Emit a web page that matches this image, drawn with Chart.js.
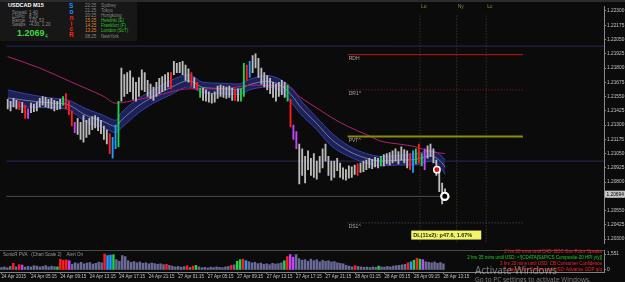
<!DOCTYPE html>
<html>
<head>
<meta charset="utf-8">
<script src="https://cdn.jsdelivr.net/npm/chart.js@4.4.0/dist/chart.umd.min.js"></script>
<style>
  html, body { margin: 0; padding: 0; background: #0b0b0b; }
  body { width: 625px; height: 282px; position: relative; overflow: hidden; font-family: "Liberation Sans", Arial, sans-serif; }
  #mainWrap { position: absolute; left: 0; top: 0; width: 625px; height: 250px; }
  #volWrap { position: absolute; left: 0; top: 250px; width: 625px; height: 32px; }
  #volWrap::before { content: ""; position: absolute; left: 0; top: 0; width: 604px; height: 1px; background: #4a4a4a; }
  #topLine { position: absolute; left: 0; top: 0; width: 625px; height: 2px; background: #2c2c2c; }
  .t { position: absolute; white-space: nowrap; line-height: 1; }
  #info { position: absolute; left: 0; top: 2px; width: 137px; height: 39px; background: #171717; }
  .lbl { font-size: 4.5px; color: #8a8a8a; }
  .news { font-size: 4.5px; right: 23px; text-align: right; }
</style>
</head>
<body>
<div id="mainWrap"><canvas id="mainChart" width="625" height="250"></canvas></div>
<div id="volWrap"><canvas id="volChart" width="625" height="32"></canvas></div>
<div id="topLine"></div>

<div id="info">
  <div class="t" style="left:8px;top:1px;font-size:5.5px;font-weight:bold;color:#fff">USDCAD</div>
  <div class="t" style="left:33px;top:1px;font-size:5.5px;font-weight:bold;color:#fff">M15</div>
  <div class="t lbl" style="left:12px;top:9px">Spread</div><div class="t lbl" style="left:29px;top:9px">1.40</div>
  <div class="t lbl" style="left:12px;top:13px">LotPip</div><div class="t lbl" style="left:29px;top:13px">8.29</div>
  <div class="t lbl" style="left:12px;top:17px">Range</div><div class="t lbl" style="left:29px;top:17px">129, 53</div>
  <div class="t lbl" style="left:12px;top:21px">Swaps</div><div class="t lbl" style="left:29px;top:21px">-4.00, 1.20</div>
  <div class="t" style="left:17px;top:27px;font-size:9px;font-weight:bold;color:#3fd83f">1.2069</div>
  <div class="t" style="left:45px;top:32px;font-size:5px;color:#3fd83f">4</div>
  <div class="t" style="left:69px;top:1px;font-size:6.5px;font-weight:bold;color:#1e90ff">S</div>
  <div class="t" style="left:69.5px;top:7px;font-size:6.5px;font-weight:bold;color:#1e90ff">o</div>
  <div class="t" style="left:69.5px;top:13px;font-size:6.5px;font-weight:bold;color:#ff2020">n</div>
  <div class="t" style="left:70.5px;top:18.5px;font-size:6.5px;font-weight:bold;color:#ff2020">i</div>
  <div class="t" style="left:69.5px;top:23.5px;font-size:6.5px;font-weight:bold;color:#ff2020">c</div>
  <div class="t" style="left:69px;top:29.5px;font-size:6.5px;font-weight:bold;color:#ff2020">R</div>
  <div class="t lbl" style="left:85px;top:1.5px">22:25</div><div class="t lbl" style="left:101px;top:1.5px">Sydney</div>
  <div class="t lbl" style="left:85px;top:6.5px">21:25</div><div class="t lbl" style="left:101px;top:6.5px">Tokyo</div>
  <div class="t lbl" style="left:85px;top:11.5px">20:25</div><div class="t lbl" style="left:101px;top:11.5px">Hongkong</div>
  <div class="t lbl" style="left:85px;top:16.5px;color:#e08a20">15:25</div><div class="t lbl" style="left:101px;top:16.5px;color:#2fc02f">Helsinki (E)</div>
  <div class="t lbl" style="left:85px;top:21.5px;color:#e08a20">14:25</div><div class="t lbl" style="left:101px;top:21.5px;color:#2fc02f">Frankfurt (F)</div>
  <div class="t lbl" style="left:85px;top:26.5px;color:#e08a20">13:25</div><div class="t lbl" style="left:101px;top:26.5px;color:#2fc02f">London (ScT)</div>
  <div class="t lbl" style="left:85px;top:32.5px">08:25</div><div class="t lbl" style="left:101px;top:32.5px">NewYork</div>
</div>

<div class="t lbl" style="left:3px;top:253px;color:#9a9a9a">SonicR PVA&nbsp;&nbsp;&nbsp;(Chart Scale 2)&nbsp;&nbsp;&nbsp;&nbsp;Alert On</div>
<div class="t news" style="top:250px;color:#ff2020">2 hrs 20 mins until CAD: BOC Gov Poloz Speaks</div>
<div class="t news" style="top:256px;color:#22c822">2 hrs 35 mins until USD: &lt;![CDATA[S&amp;P/CS Composite-20 HPI y/y]]</div>
<div class="t news" style="top:262px;color:#ff2020">3 hrs 20 mins until USD: CB Consumer Confidence</div>
<div class="t news" style="top:268px;color:#ff2020">1 days 4 hrs 5 mins until USD: Advance GDP q/q</div>
<div class="t" style="left:475px;top:265px;font-size:10px;color:rgba(200,200,200,0.6);font-family:'Open Sans',sans-serif">Activate Windows</div>
<div class="t" style="left:475px;top:277px;font-size:6.5px;color:rgba(200,200,200,0.6);font-family:'Open Sans',sans-serif">Go to PC settings to activate Windows.</div>

<script>
// bougies (plus haut / plus bas), une par barre
const highs = [1.21525,1.21509,1.21534,1.21517,1.21509,1.21500,1.21475,1.21442,1.21492,1.21484,
  1.21500,1.21534,1.21550,1.21542,1.21525,1.21534,1.21517,1.21509,1.21525,1.21550,
  1.21575,1.21509,1.21425,1.21325,1.21359,1.21325,1.21384,1.21342,1.21359,1.21375,
  1.21384,1.21367,1.21342,1.21292,1.21259,1.21225,1.21192,1.21300,1.21509,1.21800,
  1.21742,1.21759,1.21775,1.21717,1.21675,1.21717,1.21784,1.21759,1.21692,1.21659,
  1.21634,1.21675,1.21709,1.21725,1.21742,1.21759,1.21759,1.21859,1.21842,1.21850,
  1.21859,1.21825,1.21792,1.21759,1.21717,1.21675,1.21625,1.21625,1.21609,1.21592,
  1.21575,1.21592,1.21642,1.21650,1.21642,1.21634,1.21642,1.21625,1.21609,1.21617,
  1.21617,1.21842,1.21825,1.21859,1.21909,1.21925,1.21884,1.21800,1.21759,1.21734,
  1.21709,1.21675,1.21659,1.21675,1.21692,1.21675,1.21650,1.21525,1.21300,1.21242,
  1.21134,1.21092,1.21025,1.21075,1.21009,1.21050,1.20984,1.21025,1.21092,1.21134,
  1.21025,1.20984,1.20984,1.21009,1.20967,1.20925,1.20909,1.20942,1.20934,1.20950,
  1.20959,1.20967,1.20984,1.20992,1.21009,1.21000,1.21017,1.21009,1.21025,1.21042,
  1.21050,1.21059,1.21075,1.21092,1.21067,1.21109,1.21084,1.21075,1.21050,1.21075,
  1.21092,1.21134,1.21050,1.21092,1.21117,1.21134,1.21092,1.20992,1.20909,1.20792,
  1.20742];
const lows = [1.21442,1.21425,1.21459,1.21442,1.21434,1.21409,1.21359,1.21359,1.21409,1.21417,
  1.21425,1.21459,1.21475,1.21459,1.21450,1.21442,1.21425,1.21434,1.21442,1.21475,
  1.21442,1.21392,1.21292,1.21234,1.21217,1.21175,1.21150,1.21192,1.21217,1.21259,
  1.21275,1.21250,1.21225,1.21175,1.21134,1.21050,1.21009,1.21092,1.21109,1.21509,
  1.21550,1.21575,1.21592,1.21525,1.21509,1.21550,1.21609,1.21592,1.21550,1.21534,
  1.21517,1.21550,1.21575,1.21592,1.21609,1.21634,1.21617,1.21742,1.21759,1.21759,
  1.21742,1.21692,1.21675,1.21642,1.21625,1.21609,1.21542,1.21517,1.21509,1.21500,
  1.21492,1.21500,1.21534,1.21550,1.21542,1.21534,1.21542,1.21517,1.21517,1.21509,
  1.21509,1.21550,1.21692,1.21717,1.21759,1.21800,1.21717,1.21659,1.21634,1.21609,
  1.21575,1.21542,1.21509,1.21550,1.21567,1.21542,1.21509,1.21284,1.21175,1.21092,
  1.20784,1.20859,1.20792,1.20909,1.20859,1.20842,1.20825,1.20884,1.20925,1.20984,
  1.20859,1.20817,1.20842,1.20900,1.20842,1.20825,1.20817,1.20834,1.20842,1.20867,
  1.20859,1.20884,1.20892,1.20909,1.20925,1.20917,1.20934,1.20925,1.20942,1.20942,
  1.20959,1.20950,1.20967,1.20984,1.20959,1.20992,1.20967,1.20925,1.20909,1.20884,
  1.20959,1.20967,1.20942,1.20909,1.21009,1.21025,1.20967,1.20859,1.20717,1.20609,
  1.20659];
// volumes (SonicR PVA)
const volumes = [250,300,220,350,650,300,520,480,280,350,
  300,420,380,300,350,430,300,380,320,300,
  1050,950,980,900,560,700,620,750,600,680,
  720,580,650,760,700,1551,1400,1450,1480,1000,
  850,1400,1300,900,750,820,700,780,650,700,
  600,680,620,560,600,520,550,450,380,300,
  350,280,320,420,250,380,450,300,220,260,
  200,280,240,300,260,230,300,350,450,500,
  850,1000,1050,900,800,700,750,620,680,560,
  600,520,650,580,620,700,900,1300,1500,1250,
  1500,1100,950,1000,850,1050,900,1000,800,950,
  850,900,780,820,700,650,600,450,380,300,
  420,350,300,260,280,240,300,260,380,300,
  280,350,300,380,420,450,500,550,700,800,
  950,1150,1050,1000,800,750,700,780,650,720,
  600];
// barres colorées PVA
const redBars = [4, 6, 20, 21, 22, 35, 56, 63, 65, 78, 82, 97, 120, 138, 141];
const greenBars = [19, 38, 66, 80, 81, 96, 128, 140, 142];
const blueBars = [36, 37, 83, 139];
const magentaBars = [7, 23, 98, 99, 143];

// canal EMA (bande bleue)
const bandIdx = [0, 6, 16, 20, 27, 33, 37, 39, 45, 50, 56, 62, 67, 73, 79, 83, 89, 94, 98, 100, 106, 111, 117, 123, 128, 134, 140, 145, 149, 150];
const bandTop = [1.21609,1.21575,1.21534,1.21525,1.21442,1.21384,1.21342,1.21409,1.21534,1.21609,1.21692,1.21742,1.21675,1.21667,1.21659,1.21700,1.21734,1.21692,1.21609,1.21534,1.21367,1.21234,1.21117,1.21050,1.21025,1.21034,1.21050,1.21075,1.21025,1.20992];
const bandBottom = [1.21467,1.21459,1.21450,1.21442,1.21325,1.21275,1.21234,1.21275,1.21409,1.21492,1.21567,1.21634,1.21584,1.21575,1.21567,1.21609,1.21634,1.21592,1.21475,1.21409,1.21259,1.21117,1.21025,1.20967,1.20942,1.20950,1.20950,1.20984,1.20909,1.20867];
const bandMid = [1.21538,1.21517,1.21492,1.21484,1.21384,1.21330,1.21288,1.21342,1.21471,1.21550,1.21630,1.21688,1.21630,1.21621,1.21613,1.21655,1.21684,1.21642,1.21542,1.21471,1.21313,1.21175,1.21071,1.21009,1.20984,1.20992,1.21000,1.21030,1.20967,1.20930];

// moyenne mobile (ligne magenta)
const maIdx = [0, 11, 22, 33, 37, 45, 50, 62, 73, 84, 96, 100, 106, 111, 117, 123, 128, 134, 140, 145, 150];
const maValues = [1.21900,1.21800,1.21675,1.21550,1.21492,1.21525,1.21550,1.21617,1.21617,1.21650,1.21634,1.21550,1.21450,1.21367,1.21284,1.21217,1.21159,1.21134,1.21109,1.21067,1.21050];

// niveaux pivots
const levelNames = ["RDH", "DR1^", "PVT^", "DS1^"];
const levelPrices = [1.21917, 1.21609, 1.21200, 1.20442];
const levelColors = ["#c41818", "#a81818", "#8c8c10", "#55557a"];
const levelDash = [[], [1, 2], [], [1, 2]];
const levelWidth = [1, 1, 2, 1];
const levelFrom = 116.6, levelTo = 176.7;

// sessions
const sessionNames = ["Lo", "Ny", "Lc"];
const sessionBars = [141.4, 154.0, 164.1];

// lignes horizontales
const refPrices = [1.21992, 1.20984];
const bidPrice = 1.20675;
const lastPrice = 1.20694;

// signaux
const sellSignal = { x: 147.2, y: 1.20909 };
const exitSignal = { x: 149.9, y: 1.20675 };

// axes
const priceMin = 1.20259, priceMax = 1.22342;
const priceTicks = [1.20300,1.20425,1.20550,1.20675,1.20800,1.20925,1.21050,1.21175,1.21300,1.21425,1.21550,1.21675,1.21800,1.21925,1.22050,1.22175,1.22300];
const volTicks = [0, 1551];
const timeTickBars = [0, 10, 20, 30, 40, 50, 60, 70, 80, 90, 100, 110, 120, 130, 140, 150];
const timeLabels = ["24 Apr 2015", "24 Apr 05:15", "24 Apr 09:15", "24 Apr 13:15", "24 Apr 17:15", "24 Apr 21:15",
  "27 Apr 01:15", "27 Apr 05:15", "27 Apr 09:15", "27 Apr 13:15", "27 Apr 17:15", "27 Apr 21:15",
  "28 Apr 01:15", "28 Apr 05:15", "28 Apr 09:15", "28 Apr 13:15"];
const xMin = -0.5, xMax = 204.5;

Chart.defaults.font.family = "'Liberation Sans', Arial, sans-serif";

function pvaColor(i, normal) {
  if (redBars.includes(i)) return "#ff1e1e";
  if (greenBars.includes(i)) return "#1fd24a";
  if (blueBars.includes(i)) return "#1e9bff";
  if (magentaBars.includes(i)) return "#c444ff";
  return normal;
}

function lineSet(points, color, width, dash, order) {
  return { type: "line", data: points, borderColor: color, borderWidth: width, borderDash: dash || [],
    pointRadius: 0, fill: false, order: order };
}

const axisFit = (scale) => { scale.width = 21; scale.paddingTop = 0; scale.paddingBottom = 0; };

const mainLabels = {
  id: "mainLabels",
  afterDraw(chart) {
    const { ctx, scales: { x, y } } = chart;
    ctx.save();
    ctx.font = "5px 'Liberation Sans'";
    ctx.textBaseline = "top";
    ctx.fillStyle = "#a8a8a8";
    levelNames.forEach((name, k) => {
      ctx.fillText(name, x.getPixelForValue(levelFrom) + 1, y.getPixelForValue(levelPrices[k]) + 1.5);
    });
    ctx.fillStyle = "#8a8a3a";
    sessionNames.forEach((name, k) => {
      ctx.fillText(name, x.getPixelForValue(sessionBars[k]) + 1, 4);
    });
    // étiquette jaune
    const bx = x.getPixelForValue(138.4), by = y.getPixelForValue(1.20375);
    ctx.fillStyle = "#f4f46a";
    ctx.fillRect(bx, by, 70, 9);
    ctx.fillStyle = "#1a2a10";
    ctx.font = "bold 5.5px 'Liberation Sans'";
    ctx.fillText("DL(11x2): p47.6, 1.67%", bx + 2, by + 2);
    // prix courant
    const py = y.getPixelForValue(lastPrice);
    ctx.fillStyle = "#c8c8c8";
    ctx.fillRect(605, py - 3.5, 20, 7);
    ctx.fillStyle = "#000";
    ctx.font = "4.8px 'Liberation Sans'";
    ctx.textBaseline = "middle";
    ctx.fillText(lastPrice.toFixed(5), 606.5, py);
    ctx.restore();
  }
};

const datasets = [
  Object.assign(lineSet(bandIdx.map((x, k) => ({ x, y: bandTop[k] })), "#3a40a6", 1, [], 9), { cubicInterpolationMode: "monotone" }),
  Object.assign(lineSet(bandIdx.map((x, k) => ({ x, y: bandBottom[k] })), "#3a40a6", 1, [], 8),
    { cubicInterpolationMode: "monotone", fill: "-1", backgroundColor: "rgba(30,35,92,0.95)" }),
  Object.assign(lineSet(bandIdx.map((x, k) => ({ x, y: bandMid[k] })), "#8e8eb4", 0.8, [], 7), { cubicInterpolationMode: "monotone" }),
  Object.assign(lineSet(maIdx.map((x, k) => ({ x, y: maValues[k] })), "#b2226c", 1, [], 6), { cubicInterpolationMode: "monotone" }),
  {
    type: "bar",
    data: highs.map((h, i) => ({ x: i, y: [lows[i], h] })),
    backgroundColor: highs.map((_, i) => pvaColor(i, "#bcbcbc")),
    barThickness: 1.2,
    order: 5
  }
];
refPrices.forEach((p) => datasets.push(lineSet([{ x: xMin, y: p }, { x: xMax, y: p }], "#2a2a58", 1, [], 12)));
datasets.push(lineSet([{ x: xMin, y: bidPrice }, { x: 149.4, y: bidPrice }], "#4e4e4e", 1, [], 12));
sessionBars.forEach((b) => datasets.push(lineSet([{ x: b, y: 1.22259 }, { x: b, y: 1.20275 }], "#4c4c1c", 1, [1, 2], 12)));
levelPrices.forEach((p, k) => datasets.push(lineSet([{ x: levelFrom, y: p }, { x: levelTo, y: p }], levelColors[k], levelWidth[k], levelDash[k], 4)));
datasets.push({ type: "line", data: [sellSignal], showLine: false, pointRadius: 3.2, pointBackgroundColor: "#d81010",
  pointBorderColor: "#ffffff", pointBorderWidth: 1.5, order: 1 });
datasets.push({ type: "line", data: [exitSignal], showLine: false, pointRadius: 3.6, pointBackgroundColor: "#000000",
  pointBorderColor: "#ffffff", pointBorderWidth: 2.2, order: 1 });
datasets.push({ type: "line", data: [{ x: 151.3, y: 1.20667 }], showLine: false, pointRadius: 1.2, pointStyle: "rect",
  pointBackgroundColor: "#22cc22", pointBorderWidth: 0, order: 1 });

new Chart(document.getElementById("mainChart"), {
  type: "bar",
  data: { datasets: datasets },
  options: {
    responsive: false, animation: false, devicePixelRatio: 1,
    layout: { padding: 0 },
    plugins: { legend: { display: false }, tooltip: { enabled: false }, filler: { drawTime: "beforeDatasetsDraw" } },
    scales: {
      x: { type: "linear", display: false, min: xMin, max: xMax, offset: false },
      y: {
        position: "right", min: priceMin, max: priceMax,
        afterBuildTicks: (scale) => { scale.ticks = priceTicks.map((v) => ({ value: v })); },
        afterFit: axisFit,
        ticks: { callback: (v) => v.toFixed(5), color: "#c4c4c4", font: { size: 4.8 }, padding: 1 },
        grid: { drawOnChartArea: false, drawTicks: true, tickLength: 2, color: "#8a8a8a" },
        border: { display: true, color: "#8a8a8a" }
      }
    }
  },
  plugins: [mainLabels]
});

new Chart(document.getElementById("volChart"), {
  type: "bar",
  data: {
    datasets: [{
      data: volumes.map((v, i) => ({ x: i, y: v })),
      backgroundColor: volumes.map((_, i) => pvaColor(i, "#6a6a98")),
      barThickness: 1.8
    }]
  },
  options: {
    responsive: false, animation: false, devicePixelRatio: 1,
    layout: { padding: 0 },
    plugins: { legend: { display: false }, tooltip: { enabled: false } },
    scales: {
      x: {
        type: "linear", min: xMin, max: xMax, offset: false,
        afterBuildTicks: (scale) => { scale.ticks = timeTickBars.map((v) => ({ value: v })); },
        afterFit: (scale) => { scale.height = 10; scale.paddingLeft = 0; scale.paddingRight = 0; },
        ticks: { callback: (v, i) => timeLabels[i], align: "start", maxRotation: 0, autoSkip: false,
          color: "#c4c4c4", font: { size: 4.5 }, padding: 0 },
        grid: { drawOnChartArea: false, drawTicks: true, tickLength: 2, color: "#808080", offset: false },
        border: { display: true, color: "#808080" }
      },
      y: {
        position: "right", min: -194, max: 1939,
        afterBuildTicks: (scale) => { scale.ticks = volTicks.map((v) => ({ value: v })); },
        afterFit: axisFit,
        ticks: { color: "#c4c4c4", font: { size: 4.8 }, padding: 1 },
        grid: { drawOnChartArea: false, drawTicks: true, tickLength: 2, color: "#8a8a8a" },
        border: { display: true, color: "#8a8a8a" }
      }
    }
  }
});
</script>
</body>
</html>
